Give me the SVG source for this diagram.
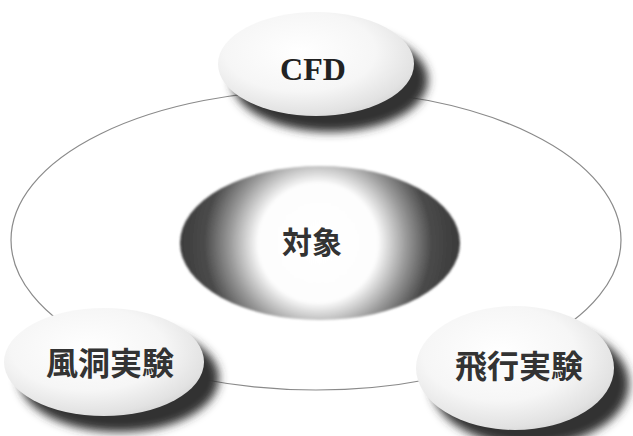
<svg xmlns="http://www.w3.org/2000/svg" width="633" height="436" viewBox="0 0 633 436">
<style>
.ring{fill:none;stroke:#8a8a8a;stroke-width:1.2}
.shadow{fill:#333333;filter:url(#blur6)}
.face{fill:url(#faceGrad)}
.jp{font-family:"Noto Sans CJK JP","Noto Sans",sans-serif;font-weight:bold;fill:#333333;text-anchor:middle}
.lat{font-family:"Liberation Serif","DejaVu Serif",serif;fill:#222;text-anchor:middle}
</style>
<defs>
<filter id="blur6" x="-30%" y="-30%" width="160%" height="160%"><feGaussianBlur stdDeviation="5"/></filter>
<filter id="blur2" x="-10%" y="-10%" width="120%" height="120%"><feGaussianBlur stdDeviation="1.2"/></filter>
<radialGradient id="faceGrad" cx="0.42" cy="0.38" r="0.7">
<stop offset="0" stop-color="#ffffff"/>
<stop offset="0.55" stop-color="#f6f6f6"/>
<stop offset="0.85" stop-color="#e2e2e2"/>
<stop offset="1" stop-color="#cfcfcf"/>
</radialGradient>
<radialGradient id="centerGrad" gradientUnits="userSpaceOnUse" cx="318" cy="243" r="142">
<stop offset="0" stop-color="#ffffff"/>
<stop offset="0.42" stop-color="#fdfdfd"/>
<stop offset="0.62" stop-color="#9a9a9a"/>
<stop offset="0.8" stop-color="#4a4a4a"/>
<stop offset="1" stop-color="#3a3a3a"/>
</radialGradient>
</defs>
<rect width="633" height="436" fill="#ffffff"/>
<g id="connectors">
<ellipse class="ring" cx="316" cy="240" rx="305" ry="150"/>
</g>
<g id="node-taisho">
<ellipse cx="320" cy="243" rx="140" ry="77" fill="url(#centerGrad)" filter="url(#blur2)"/>
<text class="jp" x="312" y="253" font-size="30">対象</text>
</g>
<g id="node-cfd">
<ellipse class="shadow" cx="330" cy="80" rx="98" ry="52"/>
<ellipse class="face" cx="316" cy="64" rx="98" ry="52"/>
<text class="lat" x="313" y="80" font-size="32" font-weight="bold">CFD</text>
</g>
<g id="node-fudo">
<ellipse class="shadow" cx="119" cy="378" rx="100" ry="54"/>
<ellipse class="face" cx="104" cy="362" rx="100" ry="54"/>
<text class="jp" x="110" y="375" font-size="32">風洞実験</text>
</g>
<g id="node-hiko">
<ellipse class="shadow" cx="530" cy="384" rx="99" ry="62"/>
<ellipse class="face" cx="515" cy="368" rx="99" ry="62"/>
<text class="jp" x="519" y="378" font-size="32">飛行実験</text>
</g>
</svg>
